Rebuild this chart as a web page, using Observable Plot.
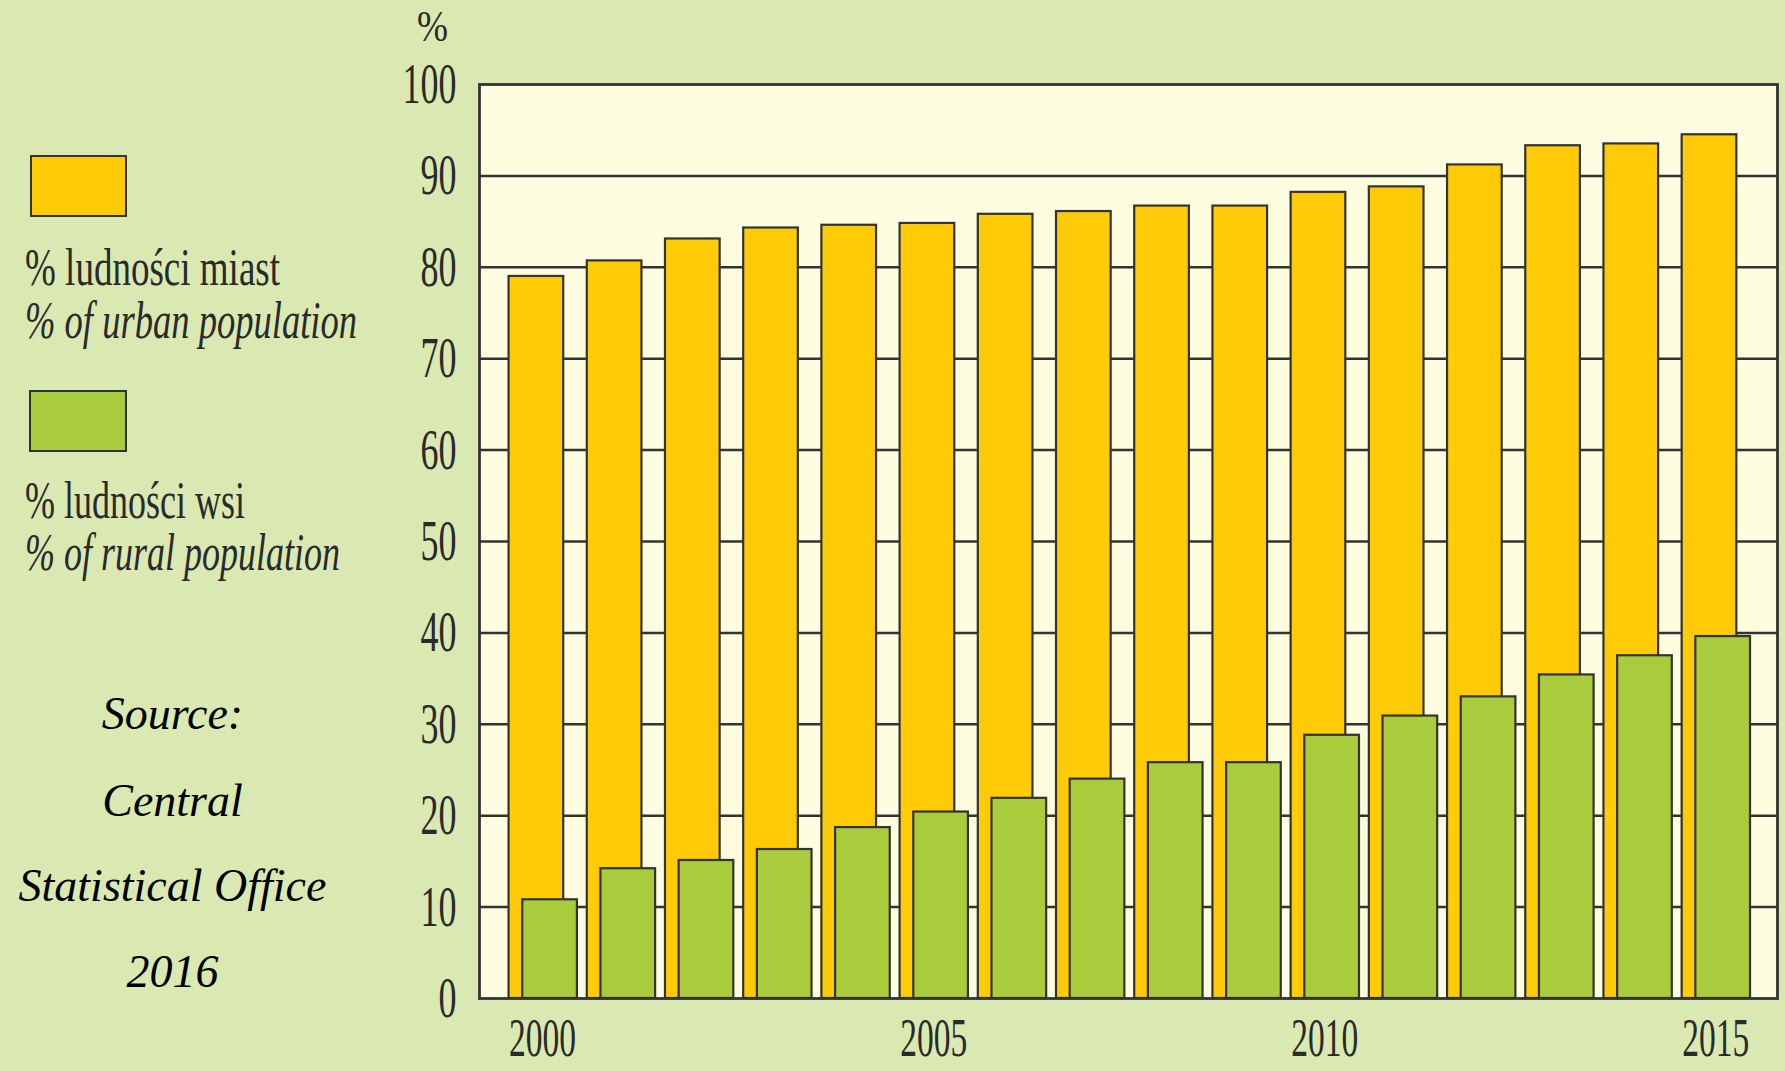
<!DOCTYPE html>
<html>
<head>
<meta charset="utf-8">
<script src="https://cdn.jsdelivr.net/npm/d3@7"></script>
<script src="https://cdn.jsdelivr.net/npm/@observablehq/plot@0.6"></script>
<style>
  html, body { margin: 0; padding: 0; background: #dae9b2; }
  #wrap { position: relative; width: 1785px; height: 1071px; overflow: hidden; background: #dae9b2; }
  #chart { position: absolute; left: 0; top: 0; }
  .abs { position: absolute; white-space: nowrap; }
  .leg { font-family: "Liberation Serif", serif; font-size: 52px; color: #2a2a2a; line-height: 46px; transform-origin: 0 0; }
  .sw { position: absolute; box-sizing: border-box; border: 2.5px solid #333; }
  .src { font-family: "Liberation Serif", serif; font-style: italic; font-size: 46px; color: #000; width: 345px; text-align: center; left: 0; line-height: 46px; }
  .unit { font-family: "Liberation Serif", serif; font-size: 45px; color: #2a2a2a; line-height: 45px; transform-origin: 0 0; }
</style>
</head>
<body>
<div id="wrap">
  <div id="chart"></div>
</div>
<script>
// ---- data ----
const years = [2000, 2001, 2002, 2003, 2004, 2005, 2006, 2007, 2008, 2009, 2010, 2011, 2012, 2013, 2014, 2015];
const urbanPct = [79.0, 80.7, 83.1, 84.3, 84.6, 84.8, 85.8, 86.1, 86.7, 86.7, 88.2, 88.8, 91.2, 93.3, 93.5, 94.5];
const ruralPct = [10.8, 14.2, 15.1, 16.3, 18.7, 20.4, 21.9, 24.0, 25.8, 25.8, 28.8, 30.9, 33.0, 35.4, 37.5, 39.6];
const yTicks = [0, 10, 20, 30, 40, 50, 60, 70, 80, 90, 100];
const xTicks = [2000, 2005, 2010, 2015];
const gridLines = [10, 20, 30, 40, 50, 60, 70, 80, 90];
const seriesNames = [
  ["% ludności miast", "% of urban population"],
  ["% ludności wsi", "% of rural population"]
];
const sourceLines = ["Source:", "Central", "Statistical Office", "2016"];

// ---- styles ----
const YELLOW = "#fecb06";
const GREEN = "#a8cc3b";
const INK = "#333333";
const PLOT_BG = "#fefde0";
const PAGE_BG = "#dae9b2";

const table = years.map((year, i) => ({ year, urban: urbanPct[i], rural: ruralPct[i] }));

const chart = Plot.plot({
  width: 1785,
  height: 1071,
  marginLeft: 479,
  marginRight: 8,
  marginTop: 84,
  marginBottom: 73,
  style: { background: PAGE_BG, fontFamily: "Liberation Serif, serif", fontSize: "58px", color: "#2a2a2a" },
  x: { domain: [1999.193, 2015.79] },
  y: { domain: [0, 100] },
  marks: [
    Plot.frame({ fill: PLOT_BG, stroke: null }),
    Plot.ruleY(gridLines, { stroke: INK, strokeWidth: 2.5 }),
    Plot.rect(table, { x1: d => d.year - 0.429, x2: d => d.year + 0.270, y1: 0, y2: "urban", fill: YELLOW, stroke: INK, strokeWidth: 2.2 }),
    Plot.rect(table, { x1: d => d.year - 0.254, x2: d => d.year + 0.445, y1: 0, y2: "rural", fill: GREEN, stroke: INK, strokeWidth: 2.2 }),
    Plot.frame({ stroke: INK, strokeWidth: 2.8 }),
    Plot.axisY({ ticks: yTicks, tickSize: 0, tickPadding: 23, label: null, fill: "#2a2a2a" }),
    Plot.axisX({ ticks: xTicks, tickSize: 0, tickPadding: 19, label: null, tickFormat: d => String(d), fill: "#2a2a2a", fontSize: 54 })
  ]
});
document.getElementById("chart").appendChild(chart);

// condense the serif tick labels like the original narrow typeface
d3.select(chart).selectAll('g[aria-label="y-axis tick label"] text, g[aria-label="x-axis tick label"] text').each(function () {
  const len = this.getComputedTextLength();
  this.setAttribute("textLength", (len * 0.62).toFixed(1));
  this.setAttribute("lengthAdjust", "spacingAndGlyphs");
});

// ---- legend & notes (HTML, left of the plot) ----
const wrap = document.getElementById("wrap");
function addDiv(cls, text, left, top, extra) {
  const el = document.createElement("div");
  el.className = "abs " + cls;
  el.textContent = text;
  el.style.left = left + "px";
  el.style.top = top + "px";
  if (extra) Object.assign(el.style, extra);
  wrap.appendChild(el);
  return el;
}
function fitWidth(el, target) {
  const w = el.getBoundingClientRect().width;
  el.style.transform = `scaleX(${(target / w).toFixed(3)})`;
}

// unit
const unit = addDiv("unit", "%", 417, 4);
fitWidth(unit, 31);

// swatches
const sw1 = document.createElement("div");
sw1.className = "sw"; Object.assign(sw1.style, { left: "30px", top: "155px", width: "97px", height: "62px", background: YELLOW });
wrap.appendChild(sw1);
const sw2 = document.createElement("div");
sw2.className = "sw"; Object.assign(sw2.style, { left: "29px", top: "390px", width: "98px", height: "62px", background: GREEN });
wrap.appendChild(sw2);

// legend texts (line-height 46px, font 52px: baseline ≈ top + 40)
const l1 = addDiv("leg", seriesNames[0][0], 25, 285 - 40);
fitWidth(l1, 255);
const l2 = addDiv("leg", seriesNames[0][1], 25, 338 - 40, { fontStyle: "italic" });
fitWidth(l2, 332);
const l3 = addDiv("leg", seriesNames[1][0], 25, 518 - 40);
fitWidth(l3, 220);
const l4 = addDiv("leg", seriesNames[1][1], 25, 570 - 40, { fontStyle: "italic" });
fitWidth(l4, 315);

// source note
const baselines = [732, 819, 904, 990];
sourceLines.forEach((t, i) => addDiv("src", t, 0, baselines[i] - 41));
</script>
</body>
</html>
